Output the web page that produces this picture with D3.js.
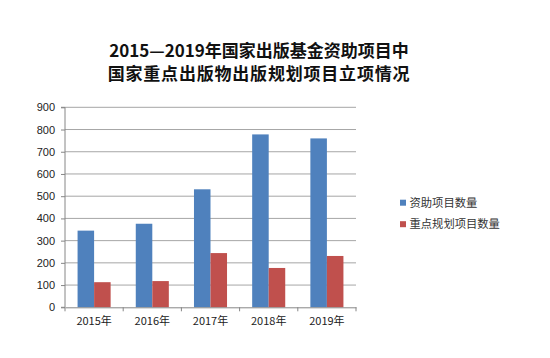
<!DOCTYPE html>
<html><head><meta charset="utf-8">
<script src="https://cdn.jsdelivr.net/npm/d3@7"></script>
<style>body{margin:0;background:#fff;}svg{display:block;}</style>
</head><body>
<script>
const categories = ["2015年","2016年","2017年","2018年","2019年"];
const seriesNames = ["资助项目数量","重点规划项目数量"];
const fundedValues = [345, 376, 531, 778, 760];
const keyPlanValues = [113, 118, 244, 177, 231];
const yTicks = [0,100,200,300,400,500,600,700,800,900];
const titleLines = ["2015—2019年国家出版基金资助项目中","国家重点出版物出版规划项目立项情况"];
const colors = ["#4F81BD","#C0504D"];

(function(){
const W=550,H=358;
const svg=d3.select("body").append("svg").attr("width",W).attr("height",H);
const pL=65,pR=356,pT=107.3,pB=307.3;
const x=d3.scaleBand().domain(categories).range([pL,pR]).paddingInner(0).paddingOuter(0);
const y=d3.scaleLinear().domain([0,900]).range([pB,pT]);
const fontNum="'Liberation Sans', Arial, sans-serif";

// gridlines
svg.append("g").selectAll("line").data(yTicks.filter(d=>d>0)).join("line")
  .attr("x1",pL).attr("x2",pR).attr("y1",d=>y(d)).attr("y2",d=>y(d))
  .attr("stroke","#a6a6a6").attr("stroke-width",1);

// bars
const barW = x.bandwidth()*0.284;
const series=[fundedValues,keyPlanValues];
series.forEach((vals,si)=>{
  svg.append("g").selectAll("rect").data(vals).join("rect")
    .attr("x",(d,i)=>x(categories[i])+x.bandwidth()/2-barW+si*barW)
    .attr("width",barW)
    .attr("y",d=>y(d)).attr("height",d=>y(0)-y(d))
    .attr("fill",colors[si]);
});

// y axis
const ya=svg.append("g").attr("transform",`translate(${pL},0)`)
  .call(d3.axisLeft(y).tickValues(yTicks).tickSize(4).tickPadding(6));
ya.select(".domain").attr("stroke","#868686").attr("d",`M-4,${pB}H0V${pT}H-4`);
ya.selectAll(".tick line").attr("stroke","#868686");
ya.selectAll("text").attr("font-family",fontNum).attr("font-size","11px").attr("fill","#222");

// x axis
const xa=svg.append("g").attr("transform",`translate(0,${pB})`)
  .call(d3.axisBottom(x).tickSize(0).tickPadding(10));
xa.select(".domain").attr("stroke","#868686");
xa.selectAll(".tick text").attr("font-family","'Noto Sans CJK SC', "+fontNum).attr("font-size","11px").attr("fill","#222");
const bounds=categories.map(c=>x(c)).concat([pR]);
xa.append("g").selectAll("line").data(bounds).join("line")
  .attr("x1",d=>d).attr("x2",d=>d).attr("y1",0).attr("y2",4).attr("stroke","#868686");

// title
svg.append("g").selectAll("text").data(titleLines).join("text")
  .attr("x",259).attr("y",(d,i)=>57+i*22.5)
  .attr("text-anchor","middle").attr("font-family","'Noto Sans CJK SC', sans-serif")
  .attr("font-weight","bold").attr("font-size","17px").attr("fill","#111")
  .attr("letter-spacing",(d,i)=>i===1?"0.8px":"0px").text(d=>d);

// legend
const lg=svg.append("g").selectAll("g").data(seriesNames).join("g")
  .attr("transform",(d,i)=>`translate(400,${202.7+i*21.5})`);
lg.append("rect").attr("x",0).attr("y",-3).attr("width",6).attr("height",6).attr("fill",(d,i)=>colors[i]);
lg.append("text").attr("x",9.5).attr("y",0).attr("dy","0.36em")
  .attr("font-family","'Noto Sans CJK SC', sans-serif").attr("font-size","11.3px").attr("fill","#333").text(d=>d);
})();
</script>
</body></html>
